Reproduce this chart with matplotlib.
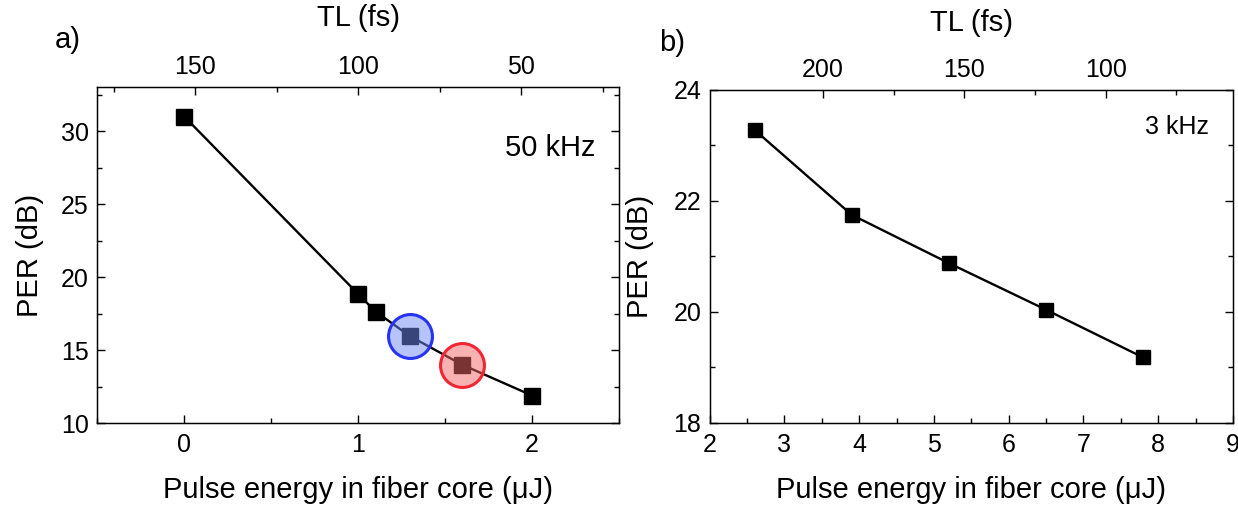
import matplotlib
matplotlib.use("Agg")
import matplotlib.pyplot as plt
from matplotlib.ticker import MultipleLocator, FixedLocator

plt.rcParams['font.family'] = ['Liberation Sans', 'DejaVu Sans']

# Panel a) 50 kHz
energy_a = [0.0, 1.0, 1.1, 1.3, 1.6, 2.0]
per_a = [31.0, 18.85, 17.65, 15.95, 14.0, 11.9]
highlight_blue = (1.3, 15.95)
highlight_red = (1.6, 14.0)

# Panel b) 3 kHz
energy_b = [2.6, 3.9, 5.2, 6.5, 7.8]
per_b = [23.28, 21.75, 20.88, 20.04, 19.18]

tl_ticks_a = [150, 100, 50]
tl_ticks_b = [200, 150, 100]

fig = plt.figure(figsize=(12.38, 5.05), dpi=100)

TICK_FS = 18
LABEL_FS = 21

def style(ax):
    ax.tick_params(axis='both', which='both', direction='in', labelsize=TICK_FS)
    ax.tick_params(axis='y', which='both', right=True, pad=6)
    ax.tick_params(axis='x', which='both', pad=7)
    ax.tick_params(which='major', length=6, width=1)
    ax.tick_params(which='minor', length=3.5, width=1)
    for s in ax.spines.values():
        s.set_linewidth(1.0)

def style_top(t):
    t.tick_params(axis='x', which='both', direction='in', labelsize=TICK_FS, pad=6)
    t.tick_params(which='major', length=6, width=1)
    t.tick_params(which='minor', length=3.5, width=1)

# ---- panel a
axa = fig.add_axes([0.0786, 0.1618, 0.4214, 0.6653])
axa.plot(energy_a, per_a, color='black', lw=1.7, marker='s', ms=11, mfc='black', mec='black', zorder=3)
axa.scatter([highlight_blue[0]], [highlight_blue[1]], s=1000, marker='o',
            facecolor=(0.44, 0.54, 0.97, 0.5), edgecolor=(0.15, 0.2, 0.95), linewidth=2.2, zorder=4)
axa.scatter([highlight_red[0]], [highlight_red[1]], s=1000, marker='o',
            facecolor=(0.95, 0.4, 0.4, 0.5), edgecolor=(0.95, 0.15, 0.2), linewidth=2.2, zorder=4)
axa.set_xlim(-0.5, 2.5)
axa.set_ylim(10, 33)
axa.xaxis.set_major_locator(MultipleLocator(1))
axa.xaxis.set_minor_locator(MultipleLocator(0.5))
axa.yaxis.set_major_locator(MultipleLocator(5))
axa.yaxis.set_minor_locator(MultipleLocator(2.5))
style(axa)
axa.set_xlabel('Pulse energy in fiber core (\u03bcJ)', fontsize=LABEL_FS)
axa.xaxis.set_label_coords(0.5, -0.199)
axa.xaxis.label.set_va('center')
axa.set_ylabel('PER (dB)', fontsize=LABEL_FS)
axa.yaxis.set_label_coords(-0.129, 0.5)
axa.yaxis.label.set_va('center')
axa.text(0.955, 0.82, '50 kHz', transform=axa.transAxes, ha='right', va='center', fontsize=LABEL_FS)

ta = axa.twiny()
ta.set_xlim(180, 20)
ta.xaxis.set_major_locator(FixedLocator(tl_ticks_a))
ta.xaxis.set_minor_locator(MultipleLocator(25))
style_top(ta)
ta.set_xlabel('TL (fs)', fontsize=LABEL_FS)
ta.xaxis.set_label_coords(0.5, 1.205)
ta.xaxis.label.set_va('center')
fig.text(0.055, 0.92, 'a)', fontsize=LABEL_FS, ha='center', va='center')

# ---- panel b
axb = fig.add_axes([0.5733, 0.1624, 0.4226, 0.6594])
axb.plot(energy_b, per_b, color='black', lw=1.7, marker='s', ms=10.5, mfc='black', mec='black', zorder=3)
axb.set_xlim(2, 9)
axb.set_ylim(18, 24)
axb.xaxis.set_major_locator(MultipleLocator(1))
axb.xaxis.set_minor_locator(MultipleLocator(0.5))
axb.yaxis.set_major_locator(MultipleLocator(2))
axb.yaxis.set_minor_locator(MultipleLocator(1))
style(axb)
axb.set_xlabel('Pulse energy in fiber core (\u03bcJ)', fontsize=LABEL_FS)
axb.xaxis.set_label_coords(0.5, -0.201)
axb.xaxis.label.set_va('center')
axb.set_ylabel('PER (dB)', fontsize=LABEL_FS)
axb.yaxis.set_label_coords(-0.133, 0.5)
axb.yaxis.label.set_va('center')
axb.text(0.955, 0.89, '3 kHz', transform=axb.transAxes, ha='right', va='center', fontsize=TICK_FS)

tb = axb.twiny()
tb.set_xlim(240, 55)
tb.xaxis.set_major_locator(FixedLocator(tl_ticks_b))
tb.xaxis.set_minor_locator(FixedLocator([175, 125, 75]))
style_top(tb)
tb.set_xlabel('TL (fs)', fontsize=LABEL_FS)
tb.xaxis.set_label_coords(0.5, 1.2)
tb.xaxis.label.set_va('center')
fig.text(0.543, 0.915, 'b)', fontsize=LABEL_FS, ha='center', va='center')

fig.savefig('out.png', dpi=100)
